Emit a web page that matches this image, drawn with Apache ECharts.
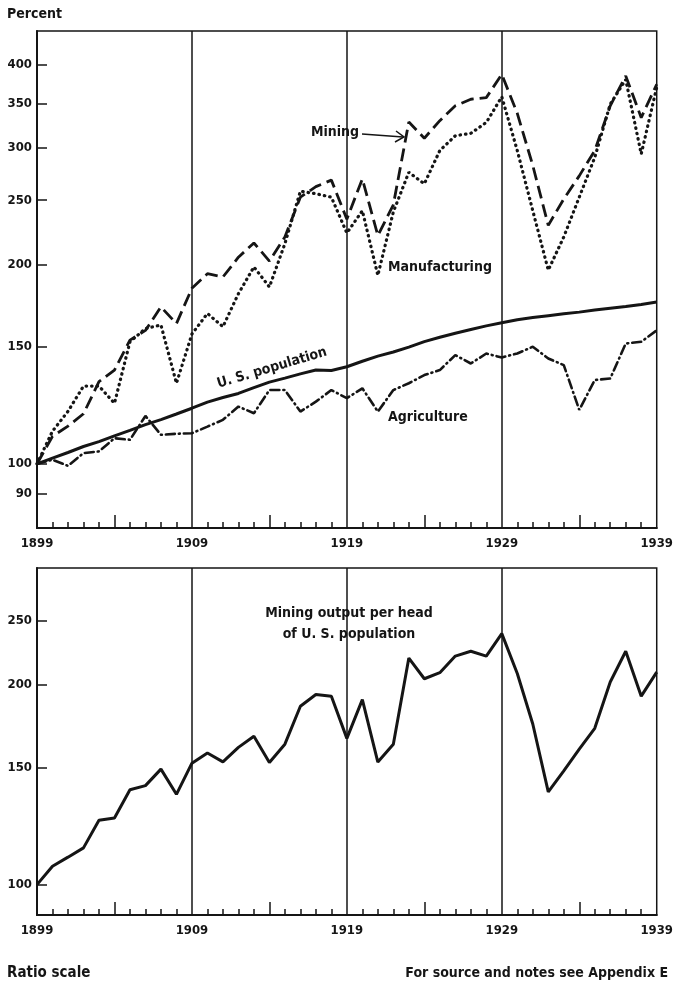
<!DOCTYPE html>
<html>
<head>
<meta charset="utf-8">
<script src="https://cdn.jsdelivr.net/npm/echarts@6/dist/echarts.min.js"></script>
<style>
html, body { margin: 0; padding: 0; background: #fff; }
#chart { width: 676px; height: 984px; }
</style>
</head>
<body>
<div id="chart"></div>
<script>
// years 1899-1939
const years = [1899, 1900, 1901, 1902, 1903, 1904, 1905, 1906, 1907, 1908,
  1909, 1910, 1911, 1912, 1913, 1914, 1915, 1916, 1917, 1918,
  1919, 1920, 1921, 1922, 1923, 1924, 1925, 1926, 1927, 1928,
  1929, 1930, 1931, 1932, 1933, 1934, 1935, 1936, 1937, 1938, 1939];

// index numbers, 1899 = 100
const mining = [100, 110, 114, 119, 133, 138.5, 153.7, 159, 172.5, 162.8,
  184, 193.6, 191.4, 205, 215.4, 202.3, 220, 252.6, 262, 268,
  234, 269.2, 221, 246, 328, 310, 329.5, 347, 355, 357,
  387, 338, 282, 229, 251, 272, 297, 347, 385, 333, 374];
const manufacturing = [100, 112, 120, 131, 131, 123.4, 152.8, 160, 162, 132.3,
  157, 168.6, 161, 180.6, 198.2, 184.9, 214.9, 257.9, 255.6, 252.6,
  223, 241, 192.5, 240, 275.4, 264.6, 297, 312.7, 315.3, 327.5,
  358, 297, 241, 196, 220, 252.6, 290, 349, 380, 293.5, 370];
const agriculture = [100, 101.4, 99.3, 103.8, 104.4, 109.3, 108.7, 118.1, 110.6, 111,
  111.2, 113.8, 116.5, 122, 119.2, 129.2, 129.2, 119.9, 124.1, 129.2,
  125.6, 130, 119.9, 129.2, 132.3, 136.1, 138.5, 145.9, 141.7, 146.7,
  144.7, 146.7, 150.2, 144.2, 140.9, 120.6, 133.8, 134.5, 151.9, 152.8, 159];
const population = [100, 102, 104, 106.2, 108, 110.2, 112.3, 114.6, 116.6, 118.9,
  121.3, 123.9, 125.9, 127.7, 130.3, 132.8, 134.7, 136.7, 138.5, 138.3,
  140.1, 142.8, 145.4, 147.5, 150, 152.9, 155.2, 157.4, 159.5, 161.5,
  163.3, 165, 166.2, 167.3, 168.4, 169.4, 170.6, 171.7, 172.7, 174, 175.5];
const miningPerHead = [100, 106.6, 110, 113.6, 125, 126, 139, 141, 149.3, 136.8,
  152.4, 157.9, 153.1, 161, 167.3, 152.8, 162.8, 185.7, 193.4, 192.3,
  166.1, 190, 153, 162.8, 219.5, 204.3, 208.6, 221, 224.7, 221,
  238.9, 208, 174.6, 138, 148.4, 160, 172, 202, 224.7, 192.3, 209];

// axis marks
const labelYears = [1899, 1909, 1919, 1929, 1939];
const decadeLines = [1909, 1919, 1929];
const halfDecadeYears = [1904, 1914, 1924, 1934];
const yearTicks = [1900, 1901, 1902, 1903, 1905, 1906, 1907, 1908,
  1910, 1911, 1912, 1913, 1915, 1916, 1917, 1918,
  1920, 1921, 1922, 1923, 1925, 1926, 1927, 1928,
  1930, 1931, 1932, 1933, 1935, 1936, 1937, 1938];
const topTicks = [90, 100, 150, 200, 250, 300, 350, 400];
const bottomTicks = [100, 150, 200, 250];

const FONT = '"DejaVu Sans Condensed", "Liberation Sans Narrow", "DejaVu Sans", sans-serif';
const INK = '#151515';

const pairs = arr => years.map((y, i) => [y, arr[i]]);

function yearAxes(gridIndex) {
  return [{
    type: 'value', gridIndex, position: 'bottom', min: 1899, max: 1939,
    axisLine: { show: true, lineStyle: { color: INK, width: 2 } },
    axisTick: { show: true, inside: true, length: 6, customValues: yearTicks, lineStyle: { color: INK, width: 1.5 } },
    axisLabel: { show: true, customValues: labelYears, color: INK, fontFamily: FONT, fontWeight: 'bold', fontSize: 13, margin: 9, formatter: v => String(Math.round(v)) },
    splitLine: { show: false }
  }, {
    type: 'value', gridIndex, position: 'bottom', min: 1899, max: 1939,
    axisLine: { show: false },
    axisTick: { show: true, inside: true, length: 13, customValues: halfDecadeYears, lineStyle: { color: INK, width: 1.5 } },
    axisLabel: { show: false },
    splitLine: { show: false }
  }];
}

function ratioAxis(gridIndex, min, max, ticks) {
  return {
    type: 'log', logBase: 10, gridIndex, min, max,
    axisLine: { show: true, lineStyle: { color: INK, width: 2 } },
    axisTick: { show: true, inside: true, length: 10, customValues: ticks, lineStyle: { color: INK, width: 1.5 } },
    axisLabel: { show: true, customValues: ticks, color: INK, fontFamily: FONT, fontWeight: 'bold', fontSize: 13, margin: 5, formatter: v => String(Math.round(v)) },
    splitLine: { show: false }
  };
}

const decadeMarks = {
  silent: true, symbol: ['none', 'none'], label: { show: false },
  lineStyle: { color: INK, width: 1.5, type: 'solid' },
  data: decadeLines.map(y => ({ xAxis: y }))
};

function line(name, data, xi, yi, style, extra) {
  return Object.assign({
    name, type: 'line', xAxisIndex: xi, yAxisIndex: yi, data: pairs(data),
    showSymbol: false, symbol: 'none', emphasis: { disabled: true },
    lineStyle: Object.assign({ color: INK, width: 2.6 }, style)
  }, extra || {});
}

const chart = echarts.init(document.getElementById('chart'));
chart.setOption({
  animation: false,
  backgroundColor: '#fff',
  grid: [
    { left: 37, top: 31, width: 623, height: 497, show: true, borderColor: INK, borderWidth: 1.5 },
    { left: 37, top: 568, width: 623, height: 347, show: true, borderColor: INK, borderWidth: 1.5 }
  ],
  xAxis: yearAxes(0).concat(yearAxes(1)),
  yAxis: [ratioAxis(0, 80, 450, topTicks), ratioAxis(1, 90, 300, bottomTicks)],
  series: [
    line('U. S. population', population, 0, 0, { width: 3 }, { markLine: decadeMarks }),
    line('Agriculture', agriculture, 0, 0, { type: [9, 4, 1, 4], cap: 'round', width: 2.6 }),
    line('Manufacturing', manufacturing, 0, 0, { type: [0.5, 5], cap: 'round', width: 3.2 }),
    line('Mining', mining, 0, 0, { type: [13, 6], width: 2.8 }),
    line('Mining output per head', miningPerHead, 2, 1, { width: 3 }, { markLine: decadeMarks })
  ],
  graphic: [
    { type: 'text', x: 7, y: 14, style: { text: 'Percent', font: 'bold 14px ' + FONT, fill: INK, textVerticalAlign: 'middle' } },
    { type: 'text', x: 359, y: 132, style: { text: 'Mining', font: 'bold 14px ' + FONT, fill: INK, textAlign: 'right', textVerticalAlign: 'middle' } },
    { type: 'line', shape: { x1: 362, y1: 134, x2: 403, y2: 137 }, style: { stroke: INK, lineWidth: 1.5 } },
    { type: 'polyline', shape: { points: [[396, 131], [404, 137], [395, 142]] }, style: { stroke: INK, lineWidth: 1.5, fill: null } },
    { type: 'text', x: 388, y: 267, style: { text: 'Manufacturing', font: 'bold 14px ' + FONT, fill: INK, textVerticalAlign: 'middle' } },
    { type: 'text', x: 272, y: 368, rotation: 0.29, style: { text: 'U. S. population', font: 'bold 14px ' + FONT, fill: INK, textAlign: 'center', textVerticalAlign: 'middle' } },
    { type: 'text', x: 388, y: 417, style: { text: 'Agriculture', font: 'bold 14px ' + FONT, fill: INK, textVerticalAlign: 'middle' } },
    { type: 'text', x: 349, y: 613, style: { text: 'Mining output per head', font: 'bold 14px ' + FONT, fill: INK, textAlign: 'center', textVerticalAlign: 'middle' } },
    { type: 'text', x: 349, y: 634, style: { text: 'of U. S. population', font: 'bold 14px ' + FONT, fill: INK, textAlign: 'center', textVerticalAlign: 'middle' } },
    { type: 'text', x: 7, y: 973, style: { text: 'Ratio scale', font: 'bold 15px ' + FONT, fill: INK, textVerticalAlign: 'middle' } },
    { type: 'text', x: 668, y: 973, style: { text: 'For source and notes see Appendix E', font: 'bold 14px ' + FONT, fill: INK, textAlign: 'right', textVerticalAlign: 'middle' } }
  ]
});
</script>
</body>
</html>
